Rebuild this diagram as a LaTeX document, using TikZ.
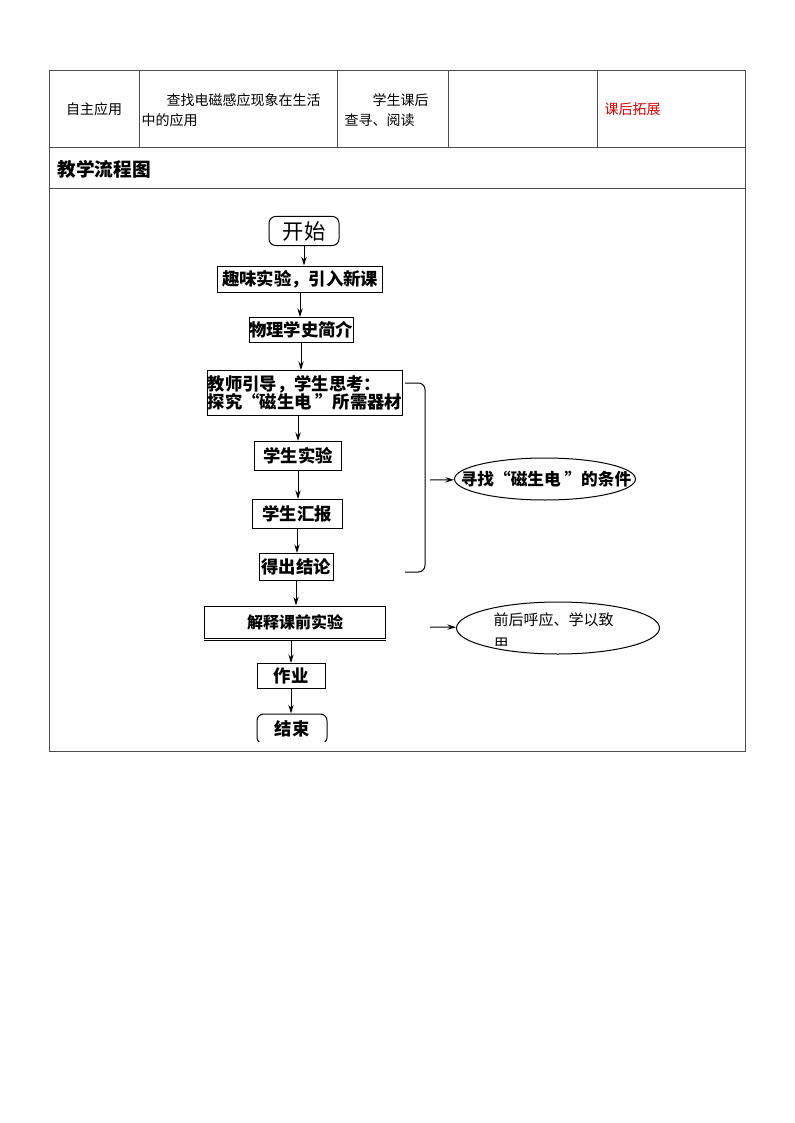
\documentclass[tikz,border=0pt]{standalone}
\usepackage{fontspec}
\setmainfont{Noto Sans CJK SC}
\usetikzlibrary{shapes,arrows.meta}

\begin{document}
\begin{tikzpicture}[x=0.75pt, y=-0.75pt, >={Stealth[length=6.5pt,width=4pt]}, line width=0.75pt,
	stepbox/.style={shape=rectangle, draw=black, inner sep=0pt, font=\bfseries\fontsize{13}{14}\selectfont},
	endbox/.style={shape=rectangle, rounded corners=5pt, draw=black, inner sep=0pt},
	cell/.style={inner sep=0pt, font=\fontsize{10.5}{12}\selectfont}]

	\useasboundingbox (0,0) rectangle (794,1123);

	% table
	\draw[black!70, line width=0.6pt] (49,70) rectangle (745,751);
	\draw[black!70, line width=0.6pt] (49,147) -- (745,147);
	\draw[black!70, line width=0.6pt] (49,188) -- (745,188);
	\foreach \x in {139,337,448,597}
		\draw[black!70, line width=0.6pt] (\x,70) -- (\x,147);

	\draw (94,109) node[cell](c1){自主应用};
	\draw (166,100) node[cell, anchor=west](c2a){查找电磁感应现象在生活};
	\draw (141,120) node[cell, anchor=west](c2b){中的应用};
	\draw (372,100) node[cell, anchor=west](c3a){学生课后};
	\draw (344,120) node[cell, anchor=west](c3b){查寻、阅读};
	\draw (604,109) node[cell, anchor=west, text=red!85!black](c5){课后拓展};
	\draw (57,169) node[cell, anchor=west, font=\bfseries\fontsize{14}{16}\selectfont](title){教学流程图};

	% flow
	\draw (304,231) node[endbox, minimum width=52.5pt, minimum height=21.75pt, font=\fontsize{16}{18}\selectfont](start){开始};
	\draw (300,279) node[stepbox, minimum width=123.75pt, minimum height=19.5pt](s1){趣味实验，引入新课};
	\draw (301,330) node[stepbox, minimum width=76.5pt, minimum height=18.75pt](s2){物理学史简介};
	\draw (305,393) node[stepbox, minimum width=142.5pt, minimum height=33.75pt, align=left](s3){教师引导，学生思考：\\探究“磁生电 ”所需器材};
	\draw (298,456) node[stepbox, minimum width=65.25pt, minimum height=21.75pt](s4){学生实验};
	\draw (297,514) node[stepbox, minimum width=67.5pt, minimum height=21.75pt](s5){学生汇报};
	\draw (296,567) node[stepbox, minimum width=55.5pt, minimum height=20.25pt](s6){得出结论};
	\draw (295,622) node[stepbox, minimum width=135.75pt, minimum height=24pt, font=\bfseries\fontsize{12}{14}\selectfont](s7){解释课前实验};
	\draw ([yshift=-1.6pt]s7.south west) -- ([yshift=-1.6pt]s7.south east);
	\draw (291,676) node[stepbox, minimum width=51pt, minimum height=18.75pt](s8){作业};
	\begin{scope}
		\clip (0,0) rectangle (794,741);
		\draw (292,729) node[endbox, minimum width=52.5pt, minimum height=22.5pt, font=\bfseries\fontsize{13}{14}\selectfont](stop){结束};
	\end{scope}

	\draw [->](start) -- (start |- s1.north);
	\draw [->](s1) -- (s1 |- s2.north);
	\draw [->](s2) -- (s2 |- s3.north);
	\draw [->](s4 |- s3.south) -- (s4);
	\draw [->](s4) -- (s4 |- s5.north);
	\draw [->](s5) -- (s5 |- s6.north);
	\draw [->](s6) -- (s6 |- s7.north);
	\draw [->](s8 |- s7.south) ++(0,2) -- (s8);
	\draw [->](s8) -- (s8 |- stop.north);

	% bracket and notes
	\draw[rounded corners=5pt] (405,383) -| (425,572) -- (405,572);
	\draw (545,479) node[ellipse, draw=black, minimum width=135.75pt, minimum height=31.5pt, inner sep=0pt](cond){};
	\draw (546,479) node[inner sep=0pt, font=\bfseries\fontsize{12.5}{14}\selectfont](condtext){寻找“磁生电 ”的条件};
	\coordinate (brk) at (430,480);
	\draw [->](brk) -- (cond);

	\draw (558,628) node[ellipse, draw=black, minimum width=152.25pt, minimum height=39pt, inner sep=0pt](echo){};
	\begin{scope}
		\clip (480,600) rectangle (640,645);
		\draw (493,612) node[anchor=north west, align=left, inner sep=0pt, font=\fontsize{11.25}{18}\selectfont](echotext){前后呼应、学以致\\用};
	\end{scope}
	\coordinate (exp) at (430,627);
	\draw [->](exp) -- (echo);
\end{tikzpicture}
\end{document}
